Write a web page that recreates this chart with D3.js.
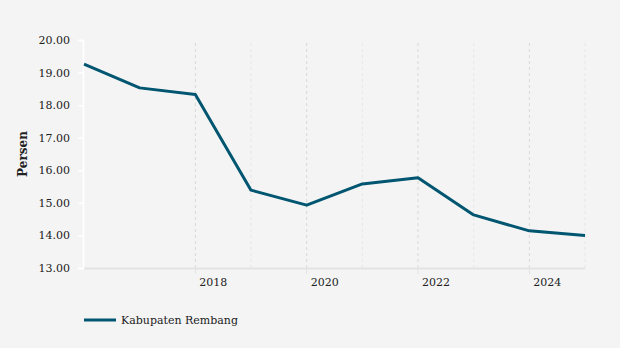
<!DOCTYPE html>
<html>
<head>
<meta charset="utf-8">
<style>
  body { margin: 0; background: #f4f4f4; }
  text { font-family: "DejaVu Serif", serif; fill: #222; }
</style>
</head>
<body>
<svg width="620" height="348"></svg>
<script src="https://cdnjs.cloudflare.com/ajax/libs/d3/7.8.5/d3.min.js"></script>
<script>
var years = [2016, 2017, 2018, 2019, 2020, 2021, 2022, 2023, 2024, 2025];
var values = [19.26, 18.53, 18.33, 15.39, 14.93, 15.58, 15.77, 14.63, 14.14, 14.00];
var yTicks = [13, 14, 15, 16, 17, 18, 19, 20];
var xLabels = [2018, 2020, 2022, 2024];
var seriesName = "Kabupaten Rembang";

var svg = d3.select("svg");
svg.append("rect").attr("width", 620).attr("height", 348).attr("fill", "#f4f4f4");

var x = d3.scaleLinear().domain([2016, 2025]).range([84, 585]);
var y = d3.scaleLinear().domain([13, 20]).range([268, 40]);

// vertical dotted grid
svg.append("g").selectAll("line")
  .data(years.filter(function(d) { return d >= 2018; }))
  .enter().append("line")
    .attr("x1", function(d) { return x(d); })
    .attr("x2", function(d) { return x(d); })
    .attr("y1", 43).attr("y2", 268)
    .attr("stroke", function(d) { return d % 2 === 0 ? "#d8d8d8" : "#e6e6e6"; })
    .attr("stroke-width", 1)
    .attr("stroke-dasharray", "3,3");

// x axis
svg.append("line").attr("x1", 84).attr("x2", 585).attr("y1", 268.5).attr("y2", 268.5)
  .attr("stroke", "#e3e3e3").attr("stroke-width", 2);
var xg = svg.append("g");
xg.selectAll("line").data(xLabels).enter().append("line")
  .attr("x1", function(d) { return x(d); }).attr("x2", function(d) { return x(d); })
  .attr("y1", 268).attr("y2", 274).attr("stroke", "#e3e3e3");
xg.selectAll("text").data(xLabels).enter().append("text")
  .attr("x", function(d) { return x(d) + 4; })
  .attr("y", 286)
  .attr("font-size", 11)
  .text(function(d) { return d; });

// y axis
var yAxis = d3.axisLeft(y).tickValues(yTicks).tickFormat(d3.format(".2f")).tickSize(5).tickPadding(8);
var yg = svg.append("g").attr("transform", "translate(83,0)").call(yAxis);
yg.selectAll("path, line").attr("stroke", "#ffffff").attr("stroke-width", 1.5);
yg.selectAll("text").attr("font-family", "DejaVu Serif, serif").attr("font-size", 11).attr("fill", "#222");

svg.append("text")
  .attr("transform", "translate(27,154) rotate(-90)")
  .attr("text-anchor", "middle")
  .attr("font-size", 12)
  .attr("font-weight", "bold")
  .text("Persen");

// line
var line = d3.line().x(function(d, i) { return x(years[i]); }).y(function(d) { return y(d); });
svg.append("path").datum(values)
  .attr("d", line)
  .attr("fill", "none")
  .attr("stroke", "#005670")
  .attr("stroke-width", 3)
  .attr("stroke-linejoin", "round");

// legend
svg.append("line").attr("x1", 84).attr("x2", 116).attr("y1", 320).attr("y2", 320)
  .attr("stroke", "#005670").attr("stroke-width", 3);
svg.append("text").attr("x", 121).attr("y", 324).attr("font-size", 11).text(seriesName);
</script>
</body>
</html>
